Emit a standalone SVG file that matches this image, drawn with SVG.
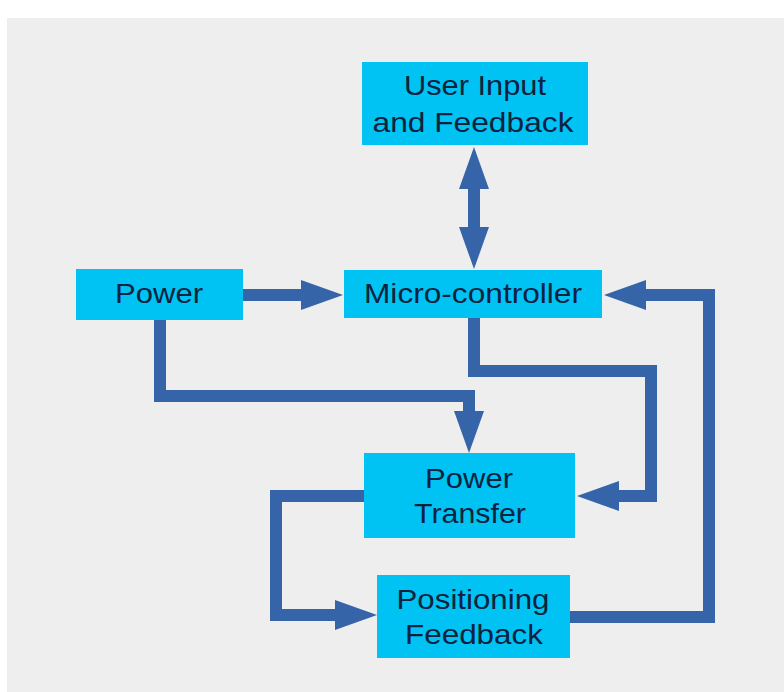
<svg xmlns="http://www.w3.org/2000/svg" width="784" height="692" viewBox="0 0 784 692">
<style>
.box{fill:#00c2f3}
.lbl{font-family:"Liberation Sans",Arial,sans-serif;font-size:28px;fill:#0c2340;text-anchor:middle}
.conn{fill:none;stroke:#3564a8;stroke-width:12;stroke-linejoin:miter}
</style>
<defs>
<marker id="ah" markerUnits="userSpaceOnUse" viewBox="0 0 42 30" markerWidth="42" markerHeight="30" refX="0" refY="15" orient="auto-start-reverse">
<path d="M0,0 L42,15 L0,30 z" fill="#3564a8"/>
</marker>
</defs>
<rect x="0" y="0" width="784" height="692" fill="#ffffff"/>
<rect x="7" y="18" width="777" height="674" fill="#eeeeee"/>
<g id="connectors">
<path class="conn" d="M474,189 V227" marker-start="url(#ah)" marker-end="url(#ah)"/>
<path class="conn" d="M243,295 H301" marker-end="url(#ah)"/>
<path class="conn" d="M160,320 V396 H469 V411" marker-end="url(#ah)"/>
<path class="conn" d="M474,318 V371 H651 V496 H619" marker-end="url(#ah)"/>
<path class="conn" d="M570,617 H709 V295 H646" marker-end="url(#ah)"/>
<path class="conn" d="M364,496 H276 V615 H335" marker-end="url(#ah)"/>
</g>
<g id="user-input">
<rect class="box" x="362" y="62" width="226" height="83"/>
<text class="lbl" x="475" y="95" textLength="142" lengthAdjust="spacingAndGlyphs">User Input</text>
<text class="lbl" x="473" y="132" textLength="201" lengthAdjust="spacingAndGlyphs">and Feedback</text>
</g>
<g id="power">
<rect class="box" x="76" y="269" width="167" height="51"/>
<text class="lbl" x="159" y="303" textLength="88" lengthAdjust="spacingAndGlyphs">Power</text>
</g>
<g id="micro-controller">
<rect class="box" x="344" y="270" width="258" height="48"/>
<text class="lbl" x="473" y="303" textLength="218" lengthAdjust="spacingAndGlyphs">Micro-controller</text>
</g>
<g id="power-transfer">
<rect class="box" x="364" y="453" width="211" height="85"/>
<text class="lbl" x="469" y="488" textLength="88" lengthAdjust="spacingAndGlyphs">Power</text>
<text class="lbl" x="470" y="523" textLength="112" lengthAdjust="spacingAndGlyphs">Transfer</text>
</g>
<g id="positioning-feedback">
<rect class="box" x="377" y="575" width="193" height="83"/>
<text class="lbl" x="473" y="609" textLength="153" lengthAdjust="spacingAndGlyphs">Positioning</text>
<text class="lbl" x="474" y="644" textLength="138" lengthAdjust="spacingAndGlyphs">Feedback</text>
</g>
</svg>
